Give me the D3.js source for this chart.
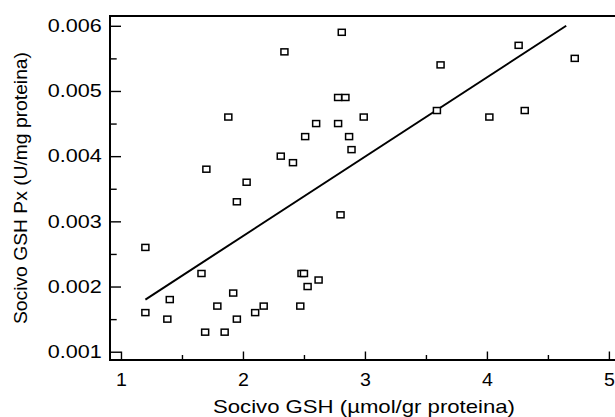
<!DOCTYPE html>
<html>
<head>
<meta charset="utf-8">
<script src="https://cdn.jsdelivr.net/npm/d3@7"></script>
<style>
  html, body { margin: 0; padding: 0; background: #fff; }
  svg text { font-family: "Liberation Sans", Arial, Helvetica, sans-serif; fill: #000; }
</style>
</head>
<body>
<svg id="chart" width="615" height="417"></svg>
<script>
// Socivo GSH (x) vs GSH Px activity (y), one entry per sample
const gshValues = [1.88, 1.70, 2.03, 2.31, 2.81, 2.34, 3.62, 2.78, 2.84, 2.99,
                   2.60, 2.78, 2.51, 2.87, 2.41, 2.89, 3.59, 4.26, 4.72, 4.02,
                   4.31, 1.95, 1.20, 1.66, 1.92, 1.40, 1.79, 1.20, 2.10, 2.17,
                   1.38, 1.95, 1.69, 1.85, 2.80, 2.48, 2.50, 2.62, 2.53, 2.47];
const pxValues = [0.0046, 0.0038, 0.0036, 0.0040, 0.0059, 0.0056, 0.0054, 0.0049, 0.0049, 0.0046,
                  0.0045, 0.0045, 0.0043, 0.0043, 0.0039, 0.0041, 0.0047, 0.0057, 0.0055, 0.0046,
                  0.0047, 0.0033, 0.0026, 0.0022, 0.0019, 0.0018, 0.0017, 0.0016, 0.0016, 0.0017,
                  0.0015, 0.0015, 0.0013, 0.0013, 0.0031, 0.0022, 0.0022, 0.0021, 0.0020, 0.0017];

// Regression line endpoints (data units)
const fitX = [1.2, 4.65];
const fitY = [0.0018, 0.0060];

// Axis ticks
const xMajor = [1, 2, 3, 4, 5];
const xMinor = [1.5, 2.5, 3.5, 4.5];
const yMajor = [0.001, 0.002, 0.003, 0.004, 0.005, 0.006];
const yMinor = [0.0015, 0.0025, 0.0035, 0.0045, 0.0055];

const xTitle = "Socivo GSH (µmol/gr proteina)";
const yTitle = "Socivo GSH Px (U/mg proteina)";

const svg = d3.select("#chart");
const plotLeft = 110, plotRight = 615, plotTop = 16, plotBottom = 360;

const x = d3.scaleLinear().domain([0.91, 5.05]).range([plotLeft, plotRight]);
const y = d3.scaleLinear().domain([0.000873, 0.00615]).range([plotBottom, plotTop]);

// Frame: left, top and bottom lines
const frame = svg.append("g").attr("stroke", "#000").attr("stroke-width", 2).attr("fill", "none");
frame.append("line").attr("x1", plotLeft).attr("x2", plotLeft).attr("y1", plotTop - 1).attr("y2", plotBottom + 1);
frame.append("line").attr("x1", plotLeft - 1).attr("x2", plotRight).attr("y1", plotTop).attr("y2", plotTop);
frame.append("line").attr("x1", plotLeft - 1).attr("x2", plotRight).attr("y1", plotBottom).attr("y2", plotBottom);

function styleAxis(g) {
  g.select(".domain").remove();
  g.selectAll(".tick line").attr("stroke", "#000").attr("stroke-width", 1.4);
}

// X axis (ticks point inward)
svg.append("g")
  .attr("transform", `translate(0,${plotBottom})`)
  .call(d3.axisBottom(x).tickValues(xMajor).tickSize(-8.5).tickPadding(13.6)
        .tickFormat(d3.format("d")))
  .call(styleAxis)
  .call(g => g.selectAll("text").attr("font-size", 17.5)
        .attr("font-family", "'Liberation Sans', Arial, sans-serif")
        .attr("transform", "scale(1.12,1)"));
svg.append("g")
  .attr("transform", `translate(0,${plotBottom})`)
  .call(d3.axisBottom(x).tickValues(xMinor).tickSize(-5).tickFormat(""))
  .call(styleAxis);

// Y axis
svg.append("g")
  .attr("transform", `translate(${plotLeft},0)`)
  .call(d3.axisLeft(y).tickValues(yMajor).tickSize(-11).tickPadding(8.3)
        .tickFormat(d3.format(".3f")))
  .call(styleAxis)
  .call(g => g.selectAll("text").attr("font-size", 18)
        .attr("font-family", "'Liberation Sans', Arial, sans-serif")
        .attr("textLength", 54).attr("lengthAdjust", "spacingAndGlyphs"));
svg.append("g")
  .attr("transform", `translate(${plotLeft},0)`)
  .call(d3.axisLeft(y).tickValues(yMinor).tickSize(-6.7).tickFormat(""))
  .call(styleAxis);

// Regression line
svg.append("line")
  .attr("x1", x(fitX[0])).attr("y1", y(fitY[0]))
  .attr("x2", x(fitX[1])).attr("y2", y(fitY[1]))
  .attr("stroke", "#000").attr("stroke-width", 2);

// Sample markers: open squares
const mw = 7, mh = 6;
svg.append("g").selectAll("rect")
  .data(d3.zip(gshValues, pxValues))
  .join("rect")
  .attr("x", d => x(d[0]) - mw / 2)
  .attr("y", d => y(d[1]) - mh / 2)
  .attr("width", mw).attr("height", mh)
  .attr("fill", "#fff").attr("stroke", "#000").attr("stroke-width", 1.5);

// Axis titles
svg.append("text")
  .attr("x", 364).attr("y", 413)
  .attr("text-anchor", "middle")
  .attr("font-size", 18.5)
  .attr("textLength", 302).attr("lengthAdjust", "spacingAndGlyphs")
  .text(xTitle);

svg.append("text")
  .attr("transform", "translate(27,188) rotate(-90)")
  .attr("text-anchor", "middle")
  .attr("font-size", 18)
  .attr("textLength", 272).attr("lengthAdjust", "spacingAndGlyphs")
  .text(yTitle);
</script>
</body>
</html>
